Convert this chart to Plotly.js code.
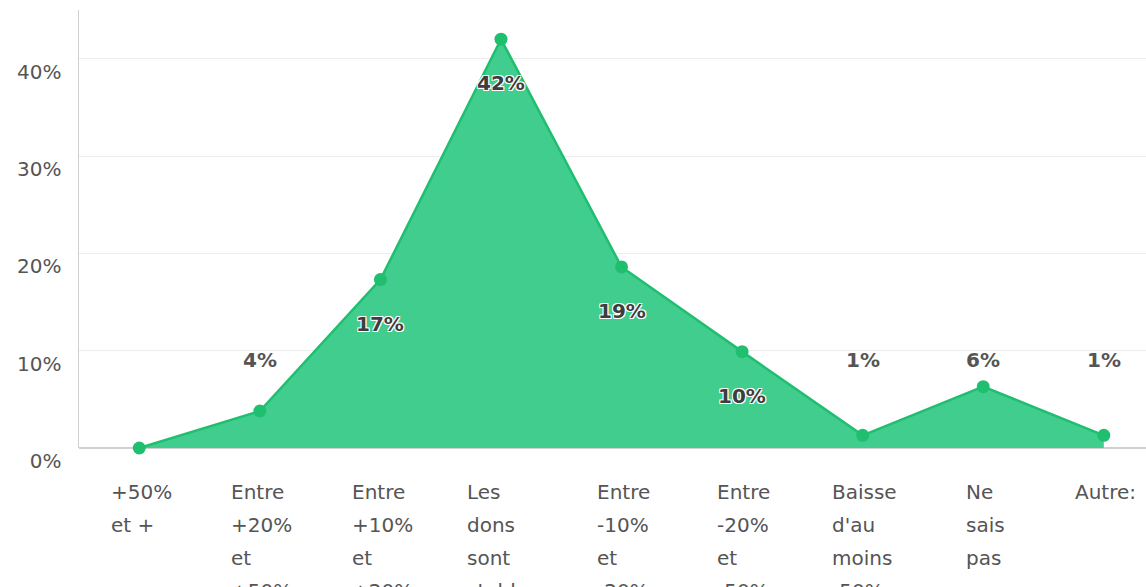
<!DOCTYPE html>
<html>
<head>
<meta charset="utf-8">
<script src="https://cdn.plot.ly/plotly-3.0.1.min.js"></script>
<style>
html,body{margin:0;padding:0;background:#fff;}
#chart{width:1146px;height:587px;}
</style>
</head>
<body>
<div id="chart"></div>
<script>
// ---- data ----
const categories = [
  "+50%<br>et +",
  "Entre<br>+20%<br>et<br>+50%",
  "Entre<br>+10%<br>et<br>+20%",
  "Les<br>dons<br>sont<br>stables",
  "Entre<br>-10%<br>et<br>-20%",
  "Entre<br>-20%<br>et<br>-50%",
  "Baisse<br>d'au<br>moins<br>-50%",
  "Ne<br>sais<br>pas",
  "Autre:"
];
const values = [0, 3.8, 17.3, 42, 18.6, 9.9, 1.3, 6.3, 1.3];
const valueLabels = ["", "4%", "17%", "42%", "19%", "10%", "1%", "6%", "1%"];
const yTickVals = [0, 10, 20, 30, 40];
const yTickText = ["0%", "10%", "20%", "30%", "40%"];

// ---- style ----
const lineColor = "#1fbf6f";
const fillColor = "#41cd8e";
const labelFont = "DejaVu Sans";
const xLabelSize = 20;

const idx = categories.map((_, i) => i);

const trace = {
  type: "scatter",
  mode: "lines+markers",
  x: idx,
  y: values,
  fill: "tozeroy",
  fillcolor: fillColor,
  line: {color: lineColor, width: 2.5},
  marker: {color: lineColor, size: 13},
  hoverinfo: "skip",
  cliponaxis: false
};

// measure text widths for left-aligned blocks
const canvas = document.createElement("canvas");
const ctx = canvas.getContext("2d");
ctx.font = xLabelSize + "px '" + labelFont + "'";

const annotations = [];
categories.forEach((c, i) => {
  const lines = c.split("<br>");
  const maxW = Math.max(...lines.map(l => ctx.measureText(l).width));
  lines.forEach((l, j) => {
    annotations.push({
      x: i, xref: "x", y: 0, yref: "paper",
      text: l, showarrow: false,
      xanchor: "left", yanchor: "middle",
      xshift: -maxW / 2,
      yshift: -44 - 33 * j,
      font: {family: labelFont, size: xLabelSize, color: "#555"}
    });
  });
});

// value labels
values.forEach((v, i) => {
  if (!valueLabels[i]) return;
  const inside = v >= 9.5;
  annotations.push({
    x: i, xref: "x",
    y: inside ? v : 9, yref: "y",
    yshift: inside ? -44 : 0,
    text: valueLabels[i], showarrow: false,
    xanchor: "center", yanchor: "middle",
    font: {
      family: labelFont, size: 20, weight: 700,
      color: inside ? "#3d3d3d" : "#555",
      shadow: inside ? "1px 1px 0 #fff, -1px -1px 0 #fff, 1px -1px 0 #fff, -1px 1px 0 #fff" : "none"
    }
  });
});

const layout = {
  width: 1146, height: 587,
  margin: {l: 79, r: 0, t: 10, b: 139, pad: 0},
  paper_bgcolor: "#fff",
  plot_bgcolor: "#fff",
  showlegend: false,
  xaxis: {
    range: [-0.5, 8.35],
    showgrid: false, zeroline: false,
    showticklabels: false, ticks: "",
    showline: false, fixedrange: true
  },
  yaxis: {
    range: [0, 45],
    tickvals: yTickVals, ticktext: yTickText,
    showgrid: true, gridcolor: "#ececec", gridwidth: 1,
    zeroline: true, zerolinecolor: "#cfcfcf", zerolinewidth: 1.5,
    showline: true, linecolor: "#cfcfcf", linewidth: 1.5,
    ticks: "", ticklabelstandoff: 12, ticklabelshift: 13,
    tickfont: {family: labelFont, size: 20, color: "#555"},
    fixedrange: true
  },
  annotations: annotations
};

Plotly.newPlot("chart", [trace], layout, {displayModeBar: false, staticPlot: true});
</script>
</body>
</html>
